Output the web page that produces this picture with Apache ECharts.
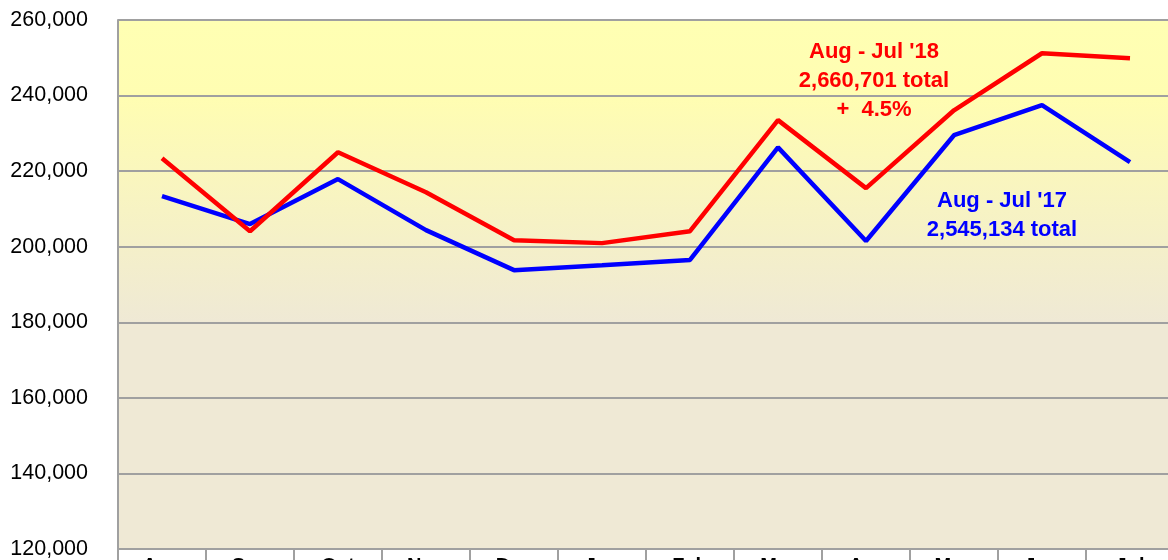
<!DOCTYPE html>
<html>
<head>
<meta charset="utf-8">
<script src="https://cdn.jsdelivr.net/npm/echarts@6/dist/echarts.min.js"></script>
<style>
    html, body { margin: 0; padding: 0; background: #fff; }
    #myChart { width: 1168px; height: 560px; }
</style>
</head>
<body>
<div id="myChart"></div>
<script>
    // months Aug .. Jul
    const months = ['Aug', 'Sep', 'Oct', 'Nov', 'Dec', 'Jan', 'Feb', 'Mar', 'Apr', 'May', 'Jun', 'Jul']
    const fy18 = [223400, 204100, 225000, 214400, 201700, 200950, 204100, 233500, 215500, 236100, 251200, 249900]
    const fy17 = [213400, 206000, 217900, 204400, 193800, 195100, 196500, 226300, 201500, 229500, 237500, 222400]
    const yTicks = [120000, 140000, 160000, 180000, 200000, 220000, 240000, 260000]
    const note18 = ["Aug - Jul '18", '2,660,701 total', '+  4.5%']
    const note17 = ["Aug - Jul '17", '2,545,134 total']

    const gray = '#a0a0a0'
    const font = '"Liberation Sans", Arial, sans-serif'

    let myChart = echarts.init(document.getElementById('myChart'))

    let noteText = (lines, x, y, color) => ({
        type: 'text',
        x: x,
        y: y,
        style: {
            text: lines.join('\n'),
            fill: color,
            font: 'bold 22px ' + font,
            lineHeight: 29,
            align: 'center',
            textAlign: 'center'
        }
    })

    let opt = {
        animation: false,
        grid: {
            left: 118,
            top: 20,
            width: 1056,
            height: 529,
            containLabel: false,
            outerBoundsMode: 'none',
            show: true,
            borderWidth: 0,
            backgroundColor: new echarts.graphic.LinearGradient(0, 0, 0, 1, [
                {offset: 0, color: '#ffffb3'},
                {offset: 0.15, color: '#fffdb2'},
                {offset: 0.57, color: '#efe9d5'},
                {offset: 1, color: '#efe9d5'}
            ])
        },
        xAxis: {
            type: 'category',
            data: months,
            boundaryGap: true,
            axisLine: {lineStyle: {color: gray, width: 2}},
            axisTick: {show: true, interval: 0, length: 14, lineStyle: {color: gray, width: 2}},
            axisLabel: {color: '#000', fontSize: 20, fontWeight: 'bold', fontFamily: font, margin: 7, interval: 0}
        },
        yAxis: {
            type: 'value',
            min: yTicks[0],
            max: yTicks[yTicks.length - 1],
            interval: 20000,
            axisLine: {show: true, lineStyle: {color: gray, width: 2}},
            axisTick: {show: false},
            splitLine: {lineStyle: {color: gray, width: 2}},
            axisLabel: {
                color: '#000',
                fontSize: 21.5,
                fontFamily: font,
                margin: 30,
                formatter: v => v.toLocaleString('en-US')
            }
        },
        series: [
            {
                name: "Aug - Jul '17",
                type: 'line',
                data: fy17,
                symbol: 'none',
                lineStyle: {color: '#0000ff', width: 4.5},
                z: 3
            },
            {
                name: "Aug - Jul '18",
                type: 'line',
                data: fy18,
                symbol: 'none',
                lineStyle: {color: '#ff0000', width: 4.5},
                z: 4
            }
        ],
        graphic: [
            noteText(note18, 874, 37, '#ff0000'),
            noteText(note17, 1002, 186, '#0000ff')
        ]
    }

    myChart.setOption(opt)
</script>
</body>
</html>
